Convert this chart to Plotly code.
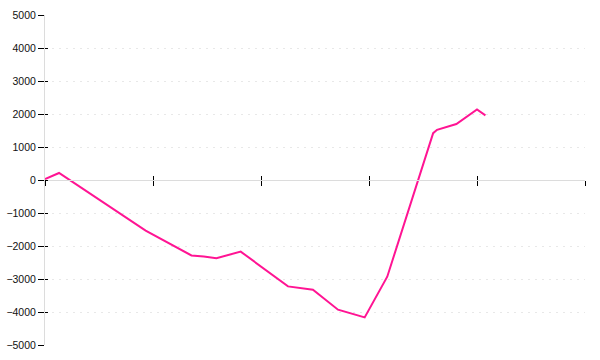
import plotly.graph_objects as go

# data
x_vals = [0.0, 0.13, 0.932, 1.356, 1.47, 1.587, 1.812, 2.25, 2.481, 2.713, 2.96, 3.169, 3.594, 3.63, 3.809, 4.0, 4.078]
y_vals = [30, 212, -1536, -2288, -2320, -2370, -2170, -3224, -3324, -3930, -4164, -2930, 1420, 1520, 1697, 2139, 1958]
y_ticks = [-5000, -4000, -3000, -2000, -1000, 0, 1000, 2000, 3000, 4000, 5000]
x_ticks = [0, 1, 2, 3, 4, 5]

LINE = "#ff1493"
fig = go.Figure()
fig.add_trace(go.Scatter(x=x_vals, y=y_vals, mode="lines",
                         line=dict(color=LINE, width=2), hoverinfo="skip", showlegend=False))
# helper trace so the overlay axes get drawn
fig.add_trace(go.Scatter(x=x_vals, y=y_vals, mode="lines", xaxis="x2", yaxis="y2",
                         line=dict(color="rgba(0,0,0,0)", width=0), hoverinfo="skip", showlegend=False))

font = dict(family="Liberation Sans, Arial, sans-serif", size=10.5, color="#111")
fig.update_layout(
    width=600, height=360,
    margin=dict(l=45, r=15, t=15, b=15, autoexpand=False),
    paper_bgcolor="white", plot_bgcolor="white",
    font=font,
    xaxis=dict(range=[0, 5], anchor="free", position=0.5, showline=True, linecolor="#dcdcdc",
               linewidth=1, ticks="outside", ticklen=5, tickwidth=1, tickcolor="#000",
               tickvals=x_ticks, showticklabels=False, showgrid=False, zeroline=False,
               automargin=False),
    xaxis2=dict(range=[0, 5], overlaying="x", anchor="free", position=0.5, showline=False,
                ticks="inside", ticklen=4, tickwidth=1, tickcolor="#000",
                tickvals=x_ticks, showticklabels=False, showgrid=False, zeroline=False,
                automargin=False),
    yaxis=dict(range=[-5000, 5000], tickvals=y_ticks, showline=True, linecolor="#dcdcdc",
               linewidth=1, ticks="outside", ticklen=6, tickwidth=1, tickcolor="#000",
               showgrid=True, gridcolor="#e8e8e8", griddash="2px,5px", gridwidth=1,
               zeroline=False, tickfont=font, ticklabelstandoff=0, automargin=False),
    yaxis2=dict(range=[-5000, 5000], overlaying="y", side="left", anchor="x",
                tickvals=y_ticks, ticks="inside", ticklen=3, tickwidth=1, tickcolor="#000",
                showticklabels=False, showgrid=False, zeroline=False, showline=False,
                automargin=False),
)
fig.write_html("out.html")
